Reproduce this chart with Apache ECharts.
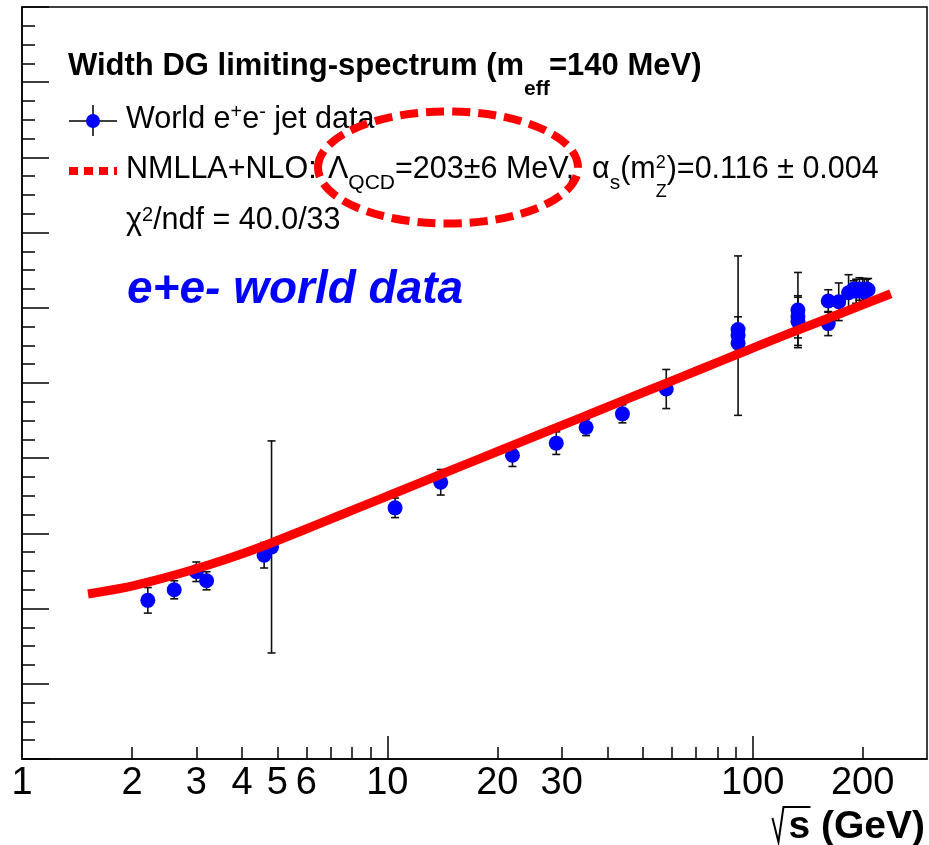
<!DOCTYPE html>
<html>
<head>
<meta charset="utf-8">
<script src="https://cdn.jsdelivr.net/npm/echarts/dist/echarts.min.js"></script>
<style>
  html, body { margin: 0; padding: 0; background: #fff; }
  #chart { width: 929px; height: 845px; }
</style>
</head>
<body>
<div id="chart"></div>
<script>
// Measured widths of the double-gaussian limiting spectrum vs centre-of-mass energy
const energies = [2.21, 2.61, 3.0, 3.2, 4.6, 4.82, 10.5, 14.0, 22.0, 29.0, 35.0, 44.0, 58.0,
  91.2, 91.2, 91.2, 133, 133, 133, 161, 161, 172, 183, 189, 192, 196, 200, 202, 205, 207];
const widths = [2.11, 2.25, 2.49, 2.37, 2.71, 2.82, 3.34, 3.68, 4.04, 4.20, 4.41, 4.59, 4.92,
  5.71, 5.63, 5.53, 5.97, 5.88, 5.82, 6.09, 5.79, 6.08, 6.20, 6.25, 6.22, 6.25, 6.24, 6.21, 6.25, 6.24];
const widthErrors = [0.17, 0.12, 0.13, 0.12, 0.17, 1.41, 0.13, 0.17, 0.15, 0.15, 0.11, 0.12, 0.26,
  0.17, 1.06, 0.11, 0.50, 0.28, 0.32, 0.15, 0.16, 0.25, 0.24, 0.11, 0.16, 0.15, 0.15, 0.17, 0.13, 0.15];

// NMLLA+NLO prediction
const curveEnergies = [1.516, 1.854, 2.240, 2.707, 3.270, 3.951, 4.771, 5.766, 7.418, 9.543, 12.28,
  15.80, 20.33, 26.16, 33.66, 43.31, 55.72, 71.70, 92.26, 118.7, 152.7, 196.6, 238.9];
const curveWidths = [2.194, 2.267, 2.360, 2.467, 2.586, 2.719, 2.866, 3.025, 3.241, 3.456, 3.672,
  3.887, 4.102, 4.318, 4.533, 4.749, 4.964, 5.180, 5.395, 5.610, 5.818, 6.025, 6.186];

// Axis ticks
const xLabelValues = [1, 2, 3, 4, 5, 6, 10, 20, 30, 100, 200];
const xShortTickValues = [2, 3, 4, 5, 6, 7, 8, 9, 20, 30, 40, 50, 60, 70, 80, 90, 200];
const xLongTickValues = [10, 100];

const FONT = '"Liberation Sans", Arial, Helvetica, sans-serif';
const measureCtx = document.createElement('canvas').getContext('2d');
function fontOf(p) {
  return (p.italic ? 'italic ' : '') + (p.bold ? 'bold ' : '') + p.size + 'px ' + FONT;
}
function textWidth(p) {
  measureCtx.font = fontOf(p);
  return measureCtx.measureText(p.t).width;
}
// Lay out a line of text pieces (with sub/superscripts) on a common baseline
function textRun(x0, baseline, pieces) {
  let x = x0;
  const out = [];
  pieces.forEach(function (p) {
    if (p.x != null) x = p.x;
    out.push({
      type: 'text', x: x, y: baseline + (p.dy || 0) - 0.3465 * p.size, z: 100,
      style: { text: p.t, font: fontOf(p), fill: p.color || '#000', align: 'left', verticalAlign: 'middle' }
    });
    if (!p.stack) x += textWidth(p);
  });
  return out;
}

const REG = 30.5, BOLD = 31, SMALL = 21;
const graphics = [];
graphics.push.apply(graphics, textRun(68, 77, [
  { t: 'Width DG limiting-spectrum (m', size: BOLD, bold: true },
  { t: 'eff', size: SMALL, bold: true, dy: 19 },
  { t: '=140 MeV)', size: BOLD, bold: true, x: 549 }
]));
graphics.push.apply(graphics, textRun(126, 130, [
  { t: 'World e', size: REG },
  { t: '+', size: 20, dy: -11 },
  { t: 'e', size: REG },
  { t: '-', size: 20, dy: -11 },
  { t: ' jet data', size: REG }
]));
graphics.push.apply(graphics, textRun(126, 180, [
  { t: 'NMLLA+NLO: ', size: REG },
  { t: 'Λ', size: REG, x: 328 },
  { t: 'QCD', size: SMALL, dy: 10 },
  { t: '=203±6 MeV,', size: REG },
  { t: 'α', size: REG, x: 592 },
  { t: 's', size: SMALL, dy: 10 },
  { t: '(m', size: REG },
  { t: '2', size: 18, dy: -11, stack: true },
  { t: 'Z', size: 18, dy: 18 },
  { t: ')=0.116 ± 0.004', size: REG }
]));
graphics.push.apply(graphics, textRun(126, 231, [
  { t: 'χ', size: REG },
  { t: '2', size: 20, dy: -9 },
  { t: '/ndf = 40.0/33', size: REG }
]));
graphics.push.apply(graphics, textRun(127, 306, [
  { t: 'e+e- world data', size: 46, bold: true, italic: true, color: '#0000ff' }
]));

// Legend markers
graphics.push({ type: 'line', z: 100, shape: { x1: 69, y1: 121, x2: 117, y2: 121 }, style: { stroke: '#000', lineWidth: 1.5 } });
graphics.push({ type: 'line', z: 100, shape: { x1: 93, y1: 105, x2: 93, y2: 136 }, style: { stroke: '#000', lineWidth: 1.5 } });
graphics.push({ type: 'circle', z: 101, shape: { cx: 93, cy: 121, r: 7 }, style: { fill: '#0000ff' } });
graphics.push({ type: 'line', z: 100, shape: { x1: 69, y1: 171, x2: 117, y2: 171 }, style: { stroke: '#ff0000', lineWidth: 8, lineDash: [9, 6] } });

// Highlight around the Lambda_QCD result
graphics.push({ type: 'ellipse', z: 110, shape: { cx: 448, cy: 167.5, rx: 130, ry: 56 },
  style: { fill: null, stroke: '#ff0000', lineWidth: 8, lineDash: [18, 8] } });

// x-axis title: sqrt(s) (GeV)
const titleFont = { t: 's (GeV)', size: 39, bold: true };
const titleW = textWidth(titleFont);
const titleX = 925 - titleW;
graphics.push.apply(graphics, textRun(titleX, 841, [titleFont]));
graphics.push({ type: 'polyline', z: 100,
  shape: { points: [[titleX - 16, 818], [titleX - 10, 842], [titleX - 5, 807], [titleX + 22, 807]] },
  style: { stroke: '#000', lineWidth: 2, fill: null } });

const points = energies.map(function (e, i) { return [e, widths[i]]; });
const errorData = energies.map(function (e, i) { return [e, widths[i], widthErrors[i]]; });
const curve = curveEnergies.map(function (e, i) { return [e, curveWidths[i]]; });

const axisLineStyle = { color: '#000', width: 1.5 };

const option = {
  animation: false,
  backgroundColor: '#fff',
  grid: [
    { left: 22, right: 2, top: 7, bottom: 86, show: true, borderColor: '#000', borderWidth: 1.5, backgroundColor: 'transparent' },
    { left: 22, right: 2, top: 7, bottom: 86, show: false }
  ],
  xAxis: [
    {
      type: 'log', logBase: 10, min: 1, max: 300, gridIndex: 0, position: 'bottom',
      axisLine: { show: true, lineStyle: axisLineStyle },
      axisTick: { show: true, inside: true, length: 12, customValues: xShortTickValues, lineStyle: axisLineStyle },
      minorTick: { show: false },
      axisLabel: { show: true, customValues: xLabelValues, fontSize: 38, fontFamily: FONT, color: '#000', margin: 6 },
      splitLine: { show: false }
    },
    {
      type: 'log', logBase: 10, min: 1, max: 300, gridIndex: 1, position: 'bottom',
      axisLine: { show: false },
      axisTick: { show: true, inside: true, length: 23, customValues: xLongTickValues, lineStyle: axisLineStyle },
      minorTick: { show: false },
      axisLabel: { show: false },
      splitLine: { show: false }
    }
  ],
  yAxis: [
    {
      type: 'value', min: 0, max: 10, interval: 1, gridIndex: 0,
      axisLine: { show: true, lineStyle: axisLineStyle },
      axisTick: { show: true, inside: true, length: 27, lineStyle: axisLineStyle },
      minorTick: { show: true, splitNumber: 4, length: 13, lineStyle: { color: '#000', width: 1.5 } },
      axisLabel: { show: false },
      splitLine: { show: false }
    },
    { type: 'value', min: 0, max: 10, gridIndex: 1, show: false }
  ],
  series: [
    {
      type: 'custom', xAxisIndex: 0, yAxisIndex: 0, z: 2,
      data: errorData,
      renderItem: function (params, api) {
        const x = api.value(0), y = api.value(1), err = api.value(2);
        const top = api.coord([x, y + err]);
        const bot = api.coord([x, y - err]);
        const hw = 4;
        const st = { stroke: '#111', lineWidth: 1.6 };
        return {
          type: 'group',
          children: [
            { type: 'line', shape: { x1: top[0], y1: top[1], x2: bot[0], y2: bot[1] }, style: st },
            { type: 'line', shape: { x1: top[0] - hw, y1: top[1], x2: top[0] + hw, y2: top[1] }, style: st },
            { type: 'line', shape: { x1: bot[0] - hw, y1: bot[1], x2: bot[0] + hw, y2: bot[1] }, style: st }
          ]
        };
      }
    },
    {
      type: 'scatter', xAxisIndex: 0, yAxisIndex: 0, z: 3,
      data: points, symbol: 'circle', symbolSize: 15,
      itemStyle: { color: '#0000ff', opacity: 1 }
    },
    {
      type: 'line', xAxisIndex: 0, yAxisIndex: 0, z: 4,
      data: curve, showSymbol: false, smooth: 0.3,
      lineStyle: { color: '#ff0000', width: 9 }
    }
  ],
  graphic: graphics
};

const chart = echarts.init(document.getElementById('chart'), null, { renderer: 'canvas' });
chart.setOption(option);
</script>
</body>
</html>
